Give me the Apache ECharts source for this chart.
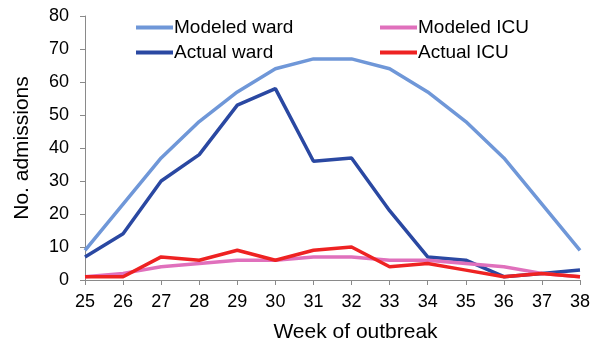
<!DOCTYPE html>
<html>
<head>
<meta charset="utf-8">
<script src="https://cdn.jsdelivr.net/npm/echarts@6/dist/echarts.min.js"></script>
<style>
html, body { margin: 0; padding: 0; background: #fff; }
#chart { width: 600px; height: 350px; }
</style>
</head>
<body>
<div id="chart"></div>
<script>
var weeks = ["25", "26", "27", "28", "29", "30", "31", "32", "33", "34", "35", "36", "37", "38"];
var modeledWard = [9, 23, 37, 48, 57, 64, 67, 67, 64, 57, 48, 37, 23, 9];
var actualWard = [7, 14, 30, 38, 53, 58, 36, 37, 21, 7, 6, 1, 2, 3];
var modeledICU = [1, 2, 4, 5, 6, 6, 7, 7, 6, 6, 5, 4, 2, 1];
var actualICU = [1, 1, 7, 6, 9, 6, 9, 10, 4, 5, 3, 1, 2, 1];

var chart = echarts.init(document.getElementById("chart"));
var font = "Liberation Sans, Arial, sans-serif";
var axisColor = "#8a8a8a";

function lineSeries(name, data, color) {
    return {
        name: name, type: "line", data: data, symbol: "none",
        lineStyle: { color: color, width: 3.5 },
        itemStyle: { color: color }
    };
}

var option = {
    animation: false,
    textStyle: { fontFamily: font },
    grid: { left: 85, right: 20, top: 16, bottom: 70 },
    legend: [{
        data: ["Modeled ward", "Actual ward"],
        orient: "vertical", left: 131, top: 13,
        icon: "rect", itemWidth: 37, itemHeight: 4, itemGap: 6,
        textStyle: { fontSize: 19, color: "#000", fontFamily: font, padding: [0, 0, 0, -4] }
    }, {
        data: ["Modeled ICU", "Actual ICU"],
        orient: "vertical", left: 375, top: 13,
        icon: "rect", itemWidth: 37, itemHeight: 4, itemGap: 6,
        textStyle: { fontSize: 19, color: "#000", fontFamily: font, padding: [0, 0, 0, -4] }
    }],
    xAxis: {
        type: "category", data: weeks, boundaryGap: false,
        name: "Week of outbreak", nameLocation: "middle", nameGap: 42,
        nameTextStyle: { fontSize: 21, color: "#000", padding: [0, 0, 0, 46] },
        axisLine: { lineStyle: { color: axisColor } },
        axisTick: { alignWithLabel: true, length: 5, lineStyle: { color: axisColor } },
        axisLabel: { fontSize: 18, color: "#000", margin: 13 }
    },
    yAxis: {
        type: "value", min: 0, max: 80, interval: 10,
        name: "No. admissions", nameLocation: "middle", nameGap: 52,
        nameTextStyle: { fontSize: 21, color: "#000" },
        axisLine: { show: true, lineStyle: { color: axisColor } },
        axisTick: { show: true, length: 5, lineStyle: { color: axisColor } },
        splitLine: { show: false },
        axisLabel: { fontSize: 18, color: "#000", margin: 16 }
    },
    series: [
        lineSeries("Modeled ward", modeledWard, "#6F97D8"),
        lineSeries("Actual ward", actualWard, "#2A48A2"),
        lineSeries("Modeled ICU", modeledICU, "#E070BC"),
        lineSeries("Actual ICU", actualICU, "#EE2222")
    ]
};
chart.setOption(option);
</script>
</body>
</html>
